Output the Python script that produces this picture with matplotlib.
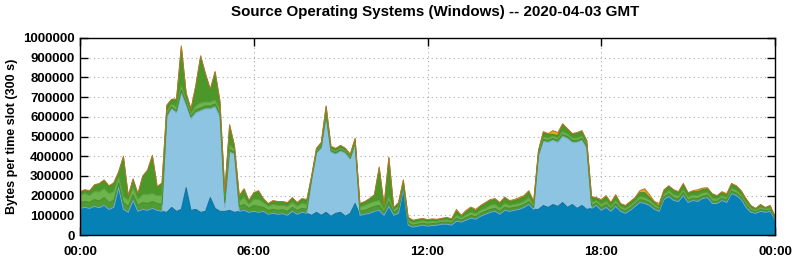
import numpy as np
import matplotlib
matplotlib.use("Agg")
import matplotlib.pyplot as plt
from matplotlib.ticker import FuncFormatter

plt.rcParams['font.family'] = ['Liberation Sans', 'DejaVu Sans']
plt.rcParams['font.weight'] = 'bold'

# 10-minute slots over the day (values in thousands of bytes per 300 s slot)
slot_minutes = 10
n_slots = 145

blue_k = [135,140,135,145,138,150,130,140,240,130,
          115,175,120,130,125,135,125,120,115,140,
          120,130,240,125,130,115,120,190,135,120,
          120,125,115,120,125,115,120,115,120,105,
          110,105,108,100,120,105,115,110,100,115,
          100,115,95,110,115,95,110,160,100,105,
          110,120,125,100,145,100,110,230,50,40,
          45,50,45,48,50,55,55,50,70,65,
          75,85,80,95,105,115,120,105,125,120,
          125,130,140,155,130,130,150,140,155,145,
          165,140,155,135,150,130,135,150,125,140,
          120,145,120,110,125,145,165,160,150,130,
          120,180,195,175,170,200,165,175,170,185,
          190,160,160,175,165,210,200,180,140,115,
          110,120,115,120,80]

lblue_k = [0,0,0,0,0,0,0,0,0,0,
           0,0,0,0,0,0,0,0,485,500,
           500,590,420,465,490,515,520,450,515,480,
           20,295,295,0,0,0,0,0,0,0,
           0,0,0,0,0,0,0,0,180,300,
           340,485,325,300,310,320,275,300,0,0,
           0,0,0,0,0,0,0,0,0,0,
           0,0,0,0,0,0,0,0,0,0,
           0,0,0,0,0,0,0,0,0,0,
           0,0,0,0,0,270,325,330,325,325,
           335,350,315,335,330,310,0,0,0,0,
           0,0,0,0,0,0,0,0,0,0,
           0,0,0,0,0,0,0,0,0,0,
           0,0,0,0,0,0,0,0,0,0,
           0,0,0,0,0]

green1_k = [30,30,30,35,35,40,35,35,25,35,
            30,30,30,35,35,35,35,35,10,10,
            10,15,10,10,15,15,15,15,15,15,
            25,15,10,25,30,20,30,30,20,20,
            20,20,20,20,20,20,20,20,5,5,
            8,10,8,8,8,5,5,8,20,20,
            25,25,25,15,25,15,20,15,12,10,
            10,10,10,10,10,10,10,10,15,10,
            12,15,12,15,15,15,15,15,15,15,
            15,15,15,15,10,8,10,10,10,10,
            10,10,10,10,10,10,15,12,15,15,
            12,15,12,12,12,12,15,15,12,12,
            10,12,15,15,12,15,12,12,15,12,
            12,12,10,12,12,12,12,12,12,10,
            8,10,8,8,5]

green2_k = [35,40,35,40,45,45,45,45,30,30,
            30,35,30,40,45,40,40,45,15,15,
            20,25,15,15,20,25,20,20,20,20,
            25,20,15,25,35,20,30,35,25,20,
            25,25,22,25,25,20,25,25,5,8,
            8,10,8,8,8,8,8,8,20,25,
            25,25,25,15,25,12,15,15,13,12,
            12,12,12,12,10,10,12,10,15,12,
            15,15,15,15,15,20,20,15,20,15,
            15,15,15,20,10,8,12,12,12,12,
            15,12,12,12,12,10,15,12,15,15,
            12,15,12,12,12,12,15,15,15,12,
            10,15,15,15,15,15,15,15,15,15,
            15,15,12,12,12,15,15,12,12,10,
            8,10,8,10,5]

green3_k = [17,17,22,32,40,41,37,42,22,200,
            22,42,27,91,121,190,42,62,32,22,
            37,195,32,22,101,235,141,62,141,42,
            27,101,17,27,42,17,32,42,17,12,
            17,17,17,17,22,17,22,22,8,10,
            12,32,12,12,12,10,10,12,17,17,
            22,32,165,17,195,10,17,17,13,11,
            11,10,10,8,7,8,8,10,20,10,
            15,22,15,20,25,25,25,25,28,20,
            20,22,25,30,17,11,23,20,8,13,
            35,25,20,25,23,17,25,13,17,25,
            18,25,13,13,16,16,20,25,13,13,
            5,18,22,22,20,27,20,18,20,18,
            18,20,15,16,13,20,20,18,18,13,
            7,13,7,10,4]

orange_k = [3,3,3,3,4,4,3,3,3,5,
            3,3,3,4,4,5,3,3,3,3,
            3,5,3,3,4,5,4,3,4,3,
            3,4,3,3,3,3,3,3,3,3,
            3,3,3,3,3,3,3,3,2,2,
            2,3,2,2,2,2,2,2,3,3,
            3,3,5,3,5,3,3,3,2,2,
            2,2,1,4,3,2,5,2,10,3,
            8,5,8,5,5,5,5,5,5,5,
            5,8,5,5,3,3,5,3,20,15,
            5,3,3,3,5,3,5,3,8,5,
            3,5,3,3,5,5,10,20,15,3,
            15,5,3,3,3,5,3,5,10,8,
            5,3,3,5,8,5,3,3,3,2,
            2,2,2,2,1]

x_tick_pos = [0, 6, 12, 18, 24]
x_tick_labels = ['00:00', '06:00', '12:00', '18:00', '00:00']
y_ticks = list(range(0, 1000001, 100000))

layers = [blue_k, lblue_k, green1_k, green2_k, green3_k, orange_k]
fills = ['#0581b5', '#8dc4e2', '#509c33', '#6db44d', '#4b9729', '#f0a01e']
edges = ['#0b6d98', '#7aaed0', '#3f8a28', '#5ba03d', '#3d8a22', '#b87828']

hours = np.arange(n_slots) * slot_minutes / 60.0

fig = plt.figure(figsize=(7.95, 2.6), dpi=100)
ax = fig.add_axes([80/795, 25/260, 695/795, 197/260])

base = np.zeros(n_slots)
for vals, fc, ec in zip(layers, fills, edges):
    v = np.asarray(vals, dtype=float) * 1000
    top = base + v
    ax.fill_between(hours, base, top, facecolor=fc, edgecolor='none', zorder=2)
    ax.plot(hours, top, color=ec, lw=0.7, zorder=3)
    base = top

ax.set_xlim(0, 24)
ax.set_ylim(0, 1000000)
ax.set_xticks(x_tick_pos)
ax.set_xticklabels(x_tick_labels)
ax.set_yticks(y_ticks)
ax.yaxis.set_major_formatter(FuncFormatter(lambda v, _: f"{int(v)}"))
ax.tick_params(direction='in', length=6, width=1, top=True, right=True,
               labelsize=9.5)
ax.tick_params(axis='x', pad=8)
ax.tick_params(axis='y', pad=4)
for lab in ax.get_xticklabels() + ax.get_yticklabels():
    lab.set_fontweight('bold')
ax.grid(True, color='#aaaaaa', lw=0.8, linestyle=(0, (1, 3)), zorder=1)
ax.set_axisbelow(True)
for s in ax.spines.values():
    s.set_linewidth(1.0)
    s.set_zorder(5)

ax.set_ylabel('Bytes per time slot (300 s)', fontsize=9, fontweight='bold')
ax.yaxis.set_label_coords(-62/695, 0.5)
fig.text(435/795, 1 - 12/260, 'Source Operating Systems (Windows) -- 2020-04-03 GMT',
         ha='center', va='center', fontsize=10.9, fontweight='bold')

fig.savefig('out.png', dpi=100)
